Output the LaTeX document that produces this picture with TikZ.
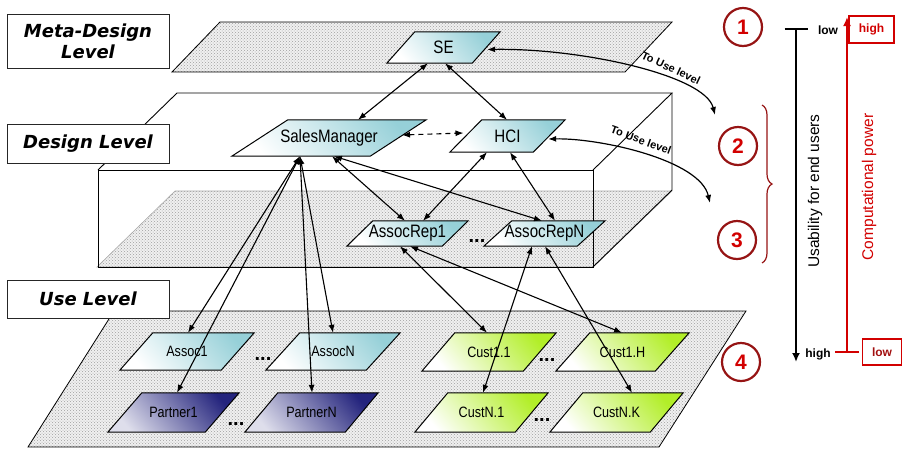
\documentclass[tikz,border=0pt]{standalone}
\usepackage{fontspec}
\setmainfont{Liberation Sans}
\newfontfamily\nodefont[FakeStretch=0.84]{Liberation Sans}
\newfontfamily\lvlfont{DejaVu Sans}
\usetikzlibrary{arrows.meta,calc,patterns,decorations.pathreplacing}
\pgfdeclarelayer{planes}
\pgfdeclarelayer{shapes}
\pgfsetlayers{planes,shapes,main}
\definecolor{tealc}{RGB}{150,208,216}
\definecolor{navyc}{RGB}{36,36,125}
\definecolor{limec}{RGB}{178,238,40}
\definecolor{maroonc}{RGB}{150,20,20}
\definecolor{redc}{RGB}{210,0,0}
\newcommand\nfbig{\nodefont\fontsize{18}{18}\selectfont}
\newcommand\nfsml{\nodefont\fontsize{15}{15}\selectfont}
% name, cx, cy, width, height, slant, shade style, text
\newcommand\pnode[8]{%
  \node[inner sep=0pt, minimum width=#4pt, minimum height=#5pt] (#1) at (#2,#3) {#8};
  \begin{pgfonlayer}{shapes}
  \shade[#7] (#1.south west) -- ([xshift=-#6pt]#1.south east) -- (#1.north east) -- ([xshift=#6pt]#1.north west) -- cycle;
  \end{pgfonlayer}
}
\tikzset{
  plane/.style={draw=black, line width=0.8pt, preaction={fill=gray!12}, pattern=crosshatch dots, pattern color=gray!75},
  floorplane/.style={draw=gray!70, line width=0.6pt, preaction={fill=gray!12}, pattern=crosshatch dots, pattern color=gray!75},
  boxline/.style={draw=black, line width=0.9pt},
  tealfill/.style={draw=black, line width=1pt, top color=tealc, bottom color=white, shading angle=-50},
  navyfill/.style={draw=black, line width=1pt, top color=navyc, bottom color=white!85!navyc, shading angle=-50},
  limefill/.style={draw=black, line width=1pt, top color=limec, bottom color=white, shading angle=-50},
  lvl/.style={draw=black!85, line width=1pt, fill=white, align=center, inner sep=0pt, minimum width=162pt,
    font=\lvlfont\bfseries\itshape\fontsize{18}{21}\selectfont},
  conn/.style={line width=1.1pt, <->},
  curvearr/.style={line width=1.2pt, <->},
  dotsty/.style={anchor=base, inner sep=0pt, font=\bfseries\fontsize{20}{20}\selectfont},
  numcirc/.style={circle, draw=maroonc, line width=2.2pt, minimum size=38pt, inner sep=0pt, text=redc,
    font=\bfseries\fontsize{21}{21}\selectfont},
  tolabel/.style={inner sep=0pt, font=\bfseries\fontsize{11}{11}\selectfont},
  scalelab/.style={inner sep=0pt, font=\bfseries\fontsize{12}{12}\selectfont},
  redbox/.style={draw=redc, line width=1.5pt, inner sep=0pt, font=\bfseries\fontsize{12}{12}\selectfont},
  >={Latex[length=8pt,width=6pt]}
}
\begin{document}
\begin{tikzpicture}[x=1pt,y=-1pt]
\useasboundingbox (0,0) rectangle (903,448);
% ---------- planes and box ----------
\begin{pgfonlayer}{planes}
\path[plane] (220,22) -- (672,22) -- (625,72) -- (172,72) -- cycle;
\path[floorplane] (175,191) -- (672,191) -- (593,267) -- (97,267) -- cycle;
\draw[boxline] (98,170) rectangle (593,267);
\draw[boxline] (98,170) -- (177,93) -- (672,93) -- (593,170);
\draw[boxline] (672,93) -- (672,190) -- (593,267);
\path[plane] (114,311) -- (746,311) -- (659,447) -- (28,447) -- cycle;
\end{pgfonlayer}
% ---------- level labels ----------
\node[lvl, minimum height=54pt] (lmeta) at (88,41) {Meta-Design\\Level};
\node[lvl, minimum height=39pt] (ldes) at (88,143.5) {Design Level};
\node[lvl, minimum height=38pt] (luse) at (88,299) {Use Level};
% ---------- nodes ----------
\pnode{se}{443.5}{47.5}{113}{31}{28}{tealfill}{\nfbig SE}
\pnode{sm}{329}{138}{194}{36}{56}{tealfill}{\nfbig SalesManager}
\pnode{hci}{507.5}{136}{115}{32}{32}{tealfill}{\nfbig HCI}
\pnode{ar1}{407.5}{233.5}{121}{25}{26}{tealfill}{\nfbig AssocRep1}
\pnode{arN}{544.5}{233.5}{121}{25}{28}{tealfill}{\nfbig AssocRepN}
\pnode{a1}{187}{351.5}{134}{37}{33}{tealfill}{\nfsml Assoc1}
\pnode{aN}{333}{351.5}{134}{37}{34}{tealfill}{\nfsml AssocN}
\pnode{p1}{173.5}{412.5}{131}{39}{34}{navyfill}{\nfsml Partner1}
\pnode{pN}{311.5}{412.5}{133}{39}{33}{navyfill}{\nfsml PartnerN}
\pnode{c11}{489}{352}{134}{38}{33}{limefill}{\nfsml Cust1.1}
\pnode{c1H}{622.5}{352}{133}{38}{34}{limefill}{\nfsml Cust1.H}
\pnode{cN1}{481.5}{412.5}{133}{39}{33}{limefill}{\nfsml CustN.1}
\pnode{cNK}{616.5}{412.5}{133}{39}{33}{limefill}{\nfsml CustN.K}
% dots
\node[dotsty] (d1) at (477,242) {...};
\node[dotsty] (d2) at (263,360) {...};
\node[dotsty] (d3) at (236,425) {...};
\node[dotsty] (d4) at (547,361) {...};
\node[dotsty] (d5) at (542,421) {...};
% ---------- connectors ----------
\draw[conn] ($(se.south)+(-15.5,0)$) -- ($(sm.north)+(29,0)$);
\draw[conn] ($(se.south)+(1.5,0)$) -- ($(hci.north)+(-0.5,0)$);
\draw[conn, dashed, dash pattern=on 5pt off 4pt] ($(sm.center)+(73,-3)$) -- ($(hci.center)+(-44,-3)$);
\draw[conn] ($(sm.south)+(3,0)$) -- ($(ar1.north)+(-2.5,0)$);
\draw[conn] ($(sm.south)+(5,0)$) -- ($(arN.north)+(-2.5,0)$);
\draw[conn] ($(hci.south)+(-20.5,0)$) -- ($(ar1.north)+(15.5,0)$);
\draw[conn] ($(hci.south)+(2.5,0)$) -- ($(arN.north)+(10.5,0)$);
\draw[conn] ($(sm.south)+(-29,0)$) -- ($(a1.north)+(1,0)$);
\draw[conn] ($(sm.south)+(-29,0)$) -- ($(p1.north)+(3.5,0)$);
\draw[conn] ($(sm.south)+(-29,0)$) -- ($(aN.north)+(0,0)$);
\draw[conn] ($(sm.south)+(-29,0)$) -- ($(pN.north)+(0.5,0)$);
\draw[conn] ($(ar1.south)+(-7.5,0)$) -- ($(c11.north)+(-2,0)$);
\draw[conn] ($(ar1.south)+(2.5,0)$) -- ($(c1H.north)+(-0.5,0)$);
\draw[conn] ($(arN.south)+(-12.5,0)$) -- ($(cN1.north)+(1.5,0)$);
\draw[conn] ($(arN.south)+(0.5,0)$) -- ($(cNK.north)+(15.5,0)$);
% ---------- curved "To Use level" arrows ----------
\coordinate (c1end) at (715,115);
\coordinate (c2end) at (710,203);
\draw[curvearr] ($(se.east)+(-13,2)$) .. controls (580,48) and (705,75) .. (c1end);
\draw[curvearr] ($(hci.east)+(-17,3)$) .. controls (600,138) and (700,160) .. (c2end);
\node[tolabel, rotate=-25] (t1) at (671,68) {To Use level};
\node[tolabel, rotate=-20] (t2) at (641,140) {To Use level};
% ---------- numbered circles and brace ----------
\node[numcirc] (n1) at (743,27) {1};
\node[numcirc] (n2) at (738,146) {2};
\node[numcirc] (n3) at (737,240) {3};
\node[numcirc] (n4) at (741,362) {4};
\coordinate (bt) at (762,105);
\coordinate (bb) at (762,263);
\draw[maroonc, line width=1.2pt, decorate, decoration={brace, amplitude=10pt}] (bt) -- (bb);
% ---------- scales ----------
\coordinate (ub) at (796,28);
\coordinate (ue) at (796,362);
\draw[line width=2.4pt, {Bar[width=23pt]}-{Latex[length=9pt,width=8pt]}] (ub) -- (ue);
\node[scalelab] (lowU) at (828,30) {low};
\node[scalelab] (highU) at (818,354) {high};
\node[rotate=90, inner sep=0pt, font=\fontsize{15.5}{15.5}\selectfont] (usab) at (815,191) {Usability for end users};
\coordinate (cb) at (847,353);
\coordinate (ce) at (847,17);
\draw[redc, line width=2pt, {Bar[width=24pt]}-{Latex[length=9pt,width=8pt]}] (cb) -- (ce);
\node[redbox, text=redc, minimum width=45pt, minimum height=27pt] (highC) at (871.5,29.5) {high};
\node[redbox, text=maroonc!80!redc, minimum width=39pt, minimum height=26pt] (lowC) at (882,352) {low};
\node[rotate=90, inner sep=0pt, text=redc, font=\fontsize{15.5}{15.5}\selectfont] (comp) at (869,187) {Computational power};
\end{tikzpicture}
\end{document}
